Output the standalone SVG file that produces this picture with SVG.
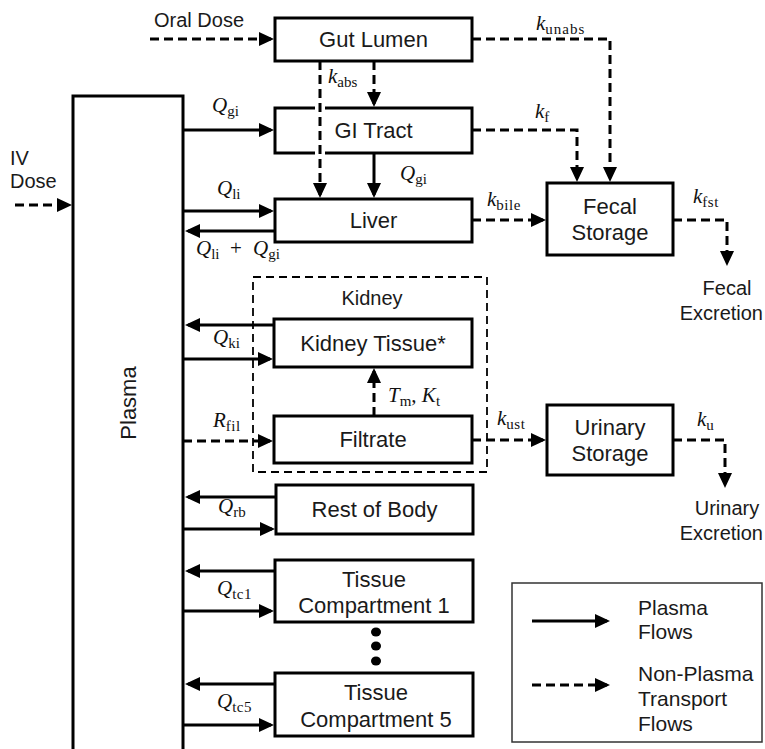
<svg xmlns="http://www.w3.org/2000/svg" width="765" height="749" viewBox="0 0 765 749">
<style>
.box{fill:#fff;stroke:#000;stroke-width:3}
.t{font-family:"Liberation Sans",Arial,sans-serif;font-size:22px;fill:#1a1a1a;text-anchor:middle}
.o{font-family:"Liberation Sans",Arial,sans-serif;font-size:20px;fill:#1a1a1a}
.lg{font-family:"Liberation Sans",Arial,sans-serif;font-size:21px;fill:#1a1a1a}
.m{font-family:"Liberation Serif","Times New Roman",serif;font-size:21px;fill:#111}
.i{font-style:italic}
.s{font-size:15px;font-style:normal}
.c{fill:none;stroke:#000;stroke-width:3;marker-end:url(#ah)}
.d{stroke-dasharray:9 5}
</style>
<defs>
<marker id="ah" markerUnits="userSpaceOnUse" markerWidth="15" markerHeight="14" refX="12" refY="7" orient="auto" viewBox="0 0 15 14"><path d="M0,0 L15,7 L0,14 z" fill="#000"/></marker>
</defs>

<g id="plasma">
<rect class="box" x="73" y="96" width="110" height="700"/>
<text class="t" transform="translate(136,403) rotate(-90)">Plasma</text>
</g>
<g id="gut-lumen">
<rect class="box" x="275" y="18" width="197" height="43"/>
<text class="t" x="373.5" y="47">Gut Lumen</text>
</g>
<g id="gi-tract">
<rect class="box" x="275" y="108" width="197" height="45"/>
<text class="t" x="373.5" y="138">GI Tract</text>
</g>
<g id="liver">
<rect class="box" x="275" y="199" width="197" height="43"/>
<text class="t" x="373.5" y="228">Liver</text>
</g>
<g id="fecal-storage">
<rect class="box" x="547" y="183" width="126" height="72"/>
<text class="t" x="610" y="214">Fecal</text>
<text class="t" x="610" y="240">Storage</text>
</g>
<g id="kidney">
<rect x="253" y="277" width="234" height="195" fill="none" stroke="#000" stroke-width="1.8" stroke-dasharray="8 5"/>
<text class="o" x="372" y="305" text-anchor="middle">Kidney</text>
</g>
<g id="kidney-tissue">
<rect class="box" x="274" y="319" width="198" height="48"/>
<text class="t" x="373" y="351">Kidney Tissue*</text>
</g>
<g id="filtrate">
<rect class="box" x="274" y="416" width="198" height="47"/>
<text class="t" x="373" y="447">Filtrate</text>
</g>
<g id="urinary-storage">
<rect class="box" x="547" y="405" width="126" height="70"/>
<text class="t" x="610" y="435">Urinary</text>
<text class="t" x="610" y="461">Storage</text>
</g>
<g id="rest-of-body">
<rect class="box" x="276" y="485" width="197" height="49"/>
<text class="t" x="374.5" y="517">Rest of Body</text>
</g>
<g id="tissue-compartment-1">
<rect class="box" x="275" y="560" width="198" height="62"/>
<text class="t" x="374" y="587">Tissue</text>
<text class="t" x="374" y="613">Compartment 1</text>
</g>
<g id="dots">
<ellipse cx="376" cy="632" rx="5" ry="4.5" fill="#000"/>
<ellipse cx="376" cy="646" rx="5" ry="4.5" fill="#000"/>
<ellipse cx="376" cy="661" rx="5" ry="4.5" fill="#000"/>
</g>
<g id="tissue-compartment-5">
<rect class="box" x="275" y="673" width="198" height="63"/>
<text class="t" x="376" y="700">Tissue</text>
<text class="t" x="376" y="727">Compartment 5</text>
</g>
<g id="oral-dose"><text class="o" x="154" y="27">Oral Dose</text></g>
<g id="iv-dose"><text class="o" x="10" y="165">IV</text><text class="o" x="10" y="188">Dose</text></g>
<g id="fecal-excretion"><text class="o" x="727" y="295" text-anchor="middle">Fecal</text><text class="o" x="763" y="320" text-anchor="end">Excretion</text></g>
<g id="urinary-excretion"><text class="o" x="727" y="515" text-anchor="middle">Urinary</text><text class="o" x="763" y="540" text-anchor="end">Excretion</text></g>

<g id="connectors">
<path class="c d" d="M150,39 H271"/>
<path class="c d" d="M15,205 H69"/>
<line x1="320" y1="104" x2="320" y2="157" stroke="#fff" stroke-width="10"/>
<path class="c d" d="M320,61 V195"/>
<path class="c d" d="M374,61 V104"/>
<path class="c" d="M374,153 V195"/>
<path class="c" d="M183,130 H271"/>
<path class="c" d="M183,211 H271"/>
<path class="c" d="M275,231 H188"/>
<path class="c d" d="M472,39 H610 V179"/>
<path class="c d" d="M472,130 H577 V179"/>
<path class="c d" d="M472,220 H543"/>
<path class="c d" d="M673,220 H727 V263"/>
<path class="c" d="M274,325 H188"/>
<path class="c" d="M183,359 H270"/>
<path class="c d" d="M374,416 V371"/>
<path class="c d" d="M183,441 H270"/>
<path class="c d" d="M472,440 H543"/>
<path class="c d" d="M673,440 H725 V485"/>
<path class="c" d="M276,497 H188"/>
<path class="c" d="M183,529 H272"/>
<path class="c" d="M275,571 H188"/>
<path class="c" d="M183,611 H271"/>
<path class="c" d="M275,684 H188"/>
<path class="c" d="M183,725 H271"/>
</g>

<g id="labels">
<text class="m" x="328" y="83"><tspan class="i">k</tspan><tspan class="s" dy="4">abs</tspan></text>
<text class="m" x="212" y="112"><tspan class="i">Q</tspan><tspan class="s" dy="4">gi</tspan></text>
<text class="m" x="400" y="180"><tspan class="i">Q</tspan><tspan class="s" dy="4">gi</tspan></text>
<text class="m" x="217" y="195"><tspan class="i">Q</tspan><tspan class="s" dy="4">li</tspan></text>
<text class="m" x="196" y="255"><tspan class="i">Q</tspan><tspan class="s" dy="4">li</tspan></text>
<text class="m" x="230" y="255">+</text>
<text class="m" x="253" y="255"><tspan class="i">Q</tspan><tspan class="s" dy="4">gi</tspan></text>
<text class="m" x="536" y="30"><tspan class="i">k</tspan><tspan class="s" dy="4" letter-spacing="1">unabs</tspan></text>
<text class="m" x="535" y="118"><tspan class="i">k</tspan><tspan class="s" dy="4">f</tspan></text>
<text class="m" x="487" y="206"><tspan class="i">k</tspan><tspan class="s" dy="4" letter-spacing="0.5">bile</tspan></text>
<text class="m" x="693" y="203"><tspan class="i">k</tspan><tspan class="s" dy="4" letter-spacing="0.5">fst</tspan></text>
<text class="m" x="213" y="344"><tspan class="i">Q</tspan><tspan class="s" dy="4">ki</tspan></text>
<text class="m" x="388" y="402"><tspan class="i">T</tspan><tspan class="s" dy="4">m</tspan><tspan dy="-4">, </tspan><tspan class="i">K</tspan><tspan class="s" dy="4">t</tspan></text>
<text class="m" x="213" y="427"><tspan class="i">R</tspan><tspan class="s" dy="4" letter-spacing="0.5">fil</tspan></text>
<text class="m" x="497" y="425"><tspan class="i">k</tspan><tspan class="s" dy="4" letter-spacing="0.5">ust</tspan></text>
<text class="m" x="697" y="426"><tspan class="i">k</tspan><tspan class="s" dy="4">u</tspan></text>
<text class="m" x="218" y="513"><tspan class="i">Q</tspan><tspan class="s" dy="4">rb</tspan></text>
<text class="m" x="217" y="595"><tspan class="i">Q</tspan><tspan class="s" dy="4" letter-spacing="0.5">tc1</tspan></text>
<text class="m" x="217" y="708"><tspan class="i">Q</tspan><tspan class="s" dy="4" letter-spacing="0.5">tc5</tspan></text>
</g>

<g id="legend">
<rect x="512" y="583" width="250" height="159" fill="#fff" stroke="#333" stroke-width="1.5"/>
<path class="c" d="M532,621 H607"/>
<path class="c d" d="M532,685 H607"/>
<text class="lg" x="638" y="615">Plasma</text>
<text class="lg" x="638" y="639">Flows</text>
<text class="lg" x="638" y="681">Non-Plasma</text>
<text class="lg" x="638" y="706">Transport</text>
<text class="lg" x="638" y="731">Flows</text>
</g>
</svg>
